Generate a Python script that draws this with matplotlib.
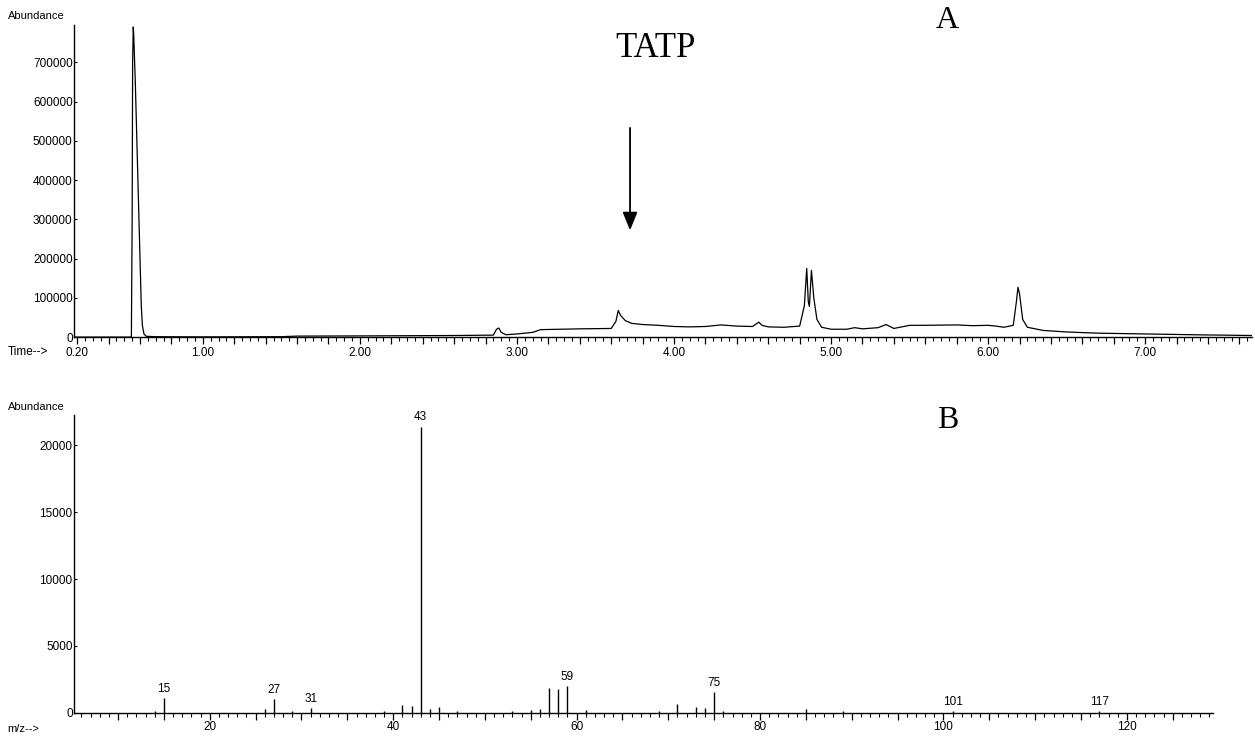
import matplotlib
matplotlib.use("Agg")
import matplotlib.pyplot as plt
from matplotlib.ticker import MultipleLocator, FixedLocator, FuncFormatter

plt.rcParams['font.family'] = ['Liberation Sans', 'DejaVu Sans']

# chromatogram (A): retention time in min, abundance
time = [0.18, 0.40, 0.545, 0.550, 0.553, 0.557, 0.560, 0.570, 0.580, 0.590, 0.600,
        0.608, 0.615, 0.625, 0.640, 0.70, 1.00, 1.50, 1.60, 2.00, 2.30, 2.60, 2.85, 2.87,
        2.885, 2.90, 2.93, 3.00, 3.10, 3.15, 3.40, 3.60, 3.63, 3.645, 3.66, 3.69,
        3.73, 3.80, 3.90, 4.00, 4.10, 4.20, 4.30, 4.40, 4.50, 4.54, 4.56, 4.60,
        4.70, 4.80, 4.83, 4.845, 4.855, 4.862, 4.875, 4.89, 4.91, 4.94, 5.00, 5.10,
        5.15, 5.20, 5.30, 5.35, 5.40, 5.50, 5.60, 5.80, 5.90, 6.00, 6.05, 6.10,
        6.16, 6.18, 6.19, 6.20, 6.22, 6.25, 6.35, 6.50, 6.70, 7.00, 7.30, 7.68]
abundance = [0, 0, 0, 300000, 700000, 790000, 770000, 650000, 500000, 350000, 200000,
             80000, 30000, 8000, 2000, 1000, 500, 1000, 2500, 3000, 3500, 4000, 5000, 20000,
             23000, 12000, 6000, 8000, 12000, 19000, 21000, 22000, 40000, 68000, 55000, 42000,
             35000, 32000, 30000, 27000, 26000, 27000, 31000, 28000, 27000, 38000, 30000, 26000,
             25000, 28000, 80000, 175000, 90000, 78000, 170000, 100000, 45000, 25000, 20000, 20000,
             24000, 21000, 24000, 32000, 22000, 30000, 30000, 31000, 29000, 30000, 28000, 25000,
             30000, 90000, 127000, 110000, 45000, 25000, 17000, 13000, 10000, 8000, 6000, 4000]

# mass spectrum (B)
mz = [14, 15, 26, 27, 29, 31, 39, 41, 42, 43, 44, 45, 47, 53, 55, 56, 57, 58, 59,
      61, 69, 71, 73, 74, 75, 76, 85, 89, 101, 117]
intensity = [150, 1100, 250, 1000, 150, 350, 150, 550, 520, 21400, 250, 450, 120, 150, 200, 250,
             1850, 1750, 2000, 200, 150, 650, 450, 380, 1550, 150, 300, 150, 120, 100]
mz_labels = [15, 27, 31, 43, 59, 75, 101, 117]

fig = plt.figure(figsize=(12.55, 7.36), dpi=100)

# ---- panel A
ax1 = fig.add_axes([0.059, 0.542, 0.9386, 0.424])
ax1.plot(time, abundance, color='black', lw=0.9)
ax1.set_xlim(0.18, 7.68)
ax1.set_ylim(0, 795000)
ax1.xaxis.set_major_locator(MultipleLocator(0.2))
ax1.xaxis.set_minor_locator(MultipleLocator(0.05))
ax1.xaxis.set_major_formatter(FuncFormatter(
    lambda v, p: f"{v:.2f}" if abs(v - 0.2) < 1e-6 or abs(v - round(v)) < 1e-6 else ""))
ax1.yaxis.set_major_locator(FixedLocator([0, 100000, 200000, 300000, 400000, 500000, 600000, 700000]))
ax1.yaxis.set_major_formatter(FuncFormatter(lambda v, p: f"{int(v)}"))

ax1.annotate("", xy=(3.72, 265000), xytext=(3.72, 540000),
             arrowprops=dict(arrowstyle="-|>,head_width=0.45,head_length=1.1",
                             color='black', lw=1.3))
ax1.text(3.88, 735000, "TATP", family='Liberation Serif', fontsize=25, ha='center', va='center')

# ---- panel B
ax2 = fig.add_axes([0.059, 0.0315, 0.9076, 0.405])
ax2.vlines(mz, 0, intensity, color='black', lw=1.0)
ax2.set_xlim(5.2, 129.4)
ax2.set_ylim(0, 22300)
ax2.xaxis.set_major_locator(MultipleLocator(5))
ax2.xaxis.set_minor_locator(MultipleLocator(1))
ax2.xaxis.set_major_formatter(FuncFormatter(lambda v, p: f"{int(round(v))}" if round(v) % 20 == 0 else ""))
ax2.yaxis.set_major_locator(FixedLocator([0, 5000, 10000, 15000, 20000]))
ax2.yaxis.set_major_formatter(FuncFormatter(lambda v, p: f"{int(v)}"))
for m in mz_labels:
    h = intensity[mz.index(m)]
    ax2.text(m, h + 250, str(m), fontsize=8.5, ha='center', va='bottom')

for ax in (ax1, ax2):
    ax.spines['top'].set_visible(False)
    ax.spines['right'].set_visible(False)
    ax.spines['left'].set_linewidth(1.0)
    ax.spines['bottom'].set_linewidth(1.0)
    ax.tick_params(axis='x', which='major', direction='out', length=5, width=0.9, labelsize=8.5, pad=2)
    ax.tick_params(axis='x', which='minor', direction='out', length=3, width=0.8)
    ax.tick_params(axis='y', which='major', direction='in', length=2, width=0.8, labelsize=8.5, pad=1)
ax2.tick_params(axis='x', which='major', pad=1)

fig.text(0.006, 0.978, "Abundance", fontsize=8, va='center')
fig.text(0.006, 0.522, "Time-->", fontsize=8.5, va='center')
fig.text(0.006, 0.447, "Abundance", fontsize=8, va='center')
fig.text(0.006, 0.009, "m/z-->", fontsize=8, va='center')
fig.text(0.755, 0.972, "A", family='Liberation Serif', fontsize=23, ha='center', va='center')
fig.text(0.755, 0.428, "B", family='Liberation Serif', fontsize=23, ha='center', va='center')

fig.savefig("out.png", dpi=100)
